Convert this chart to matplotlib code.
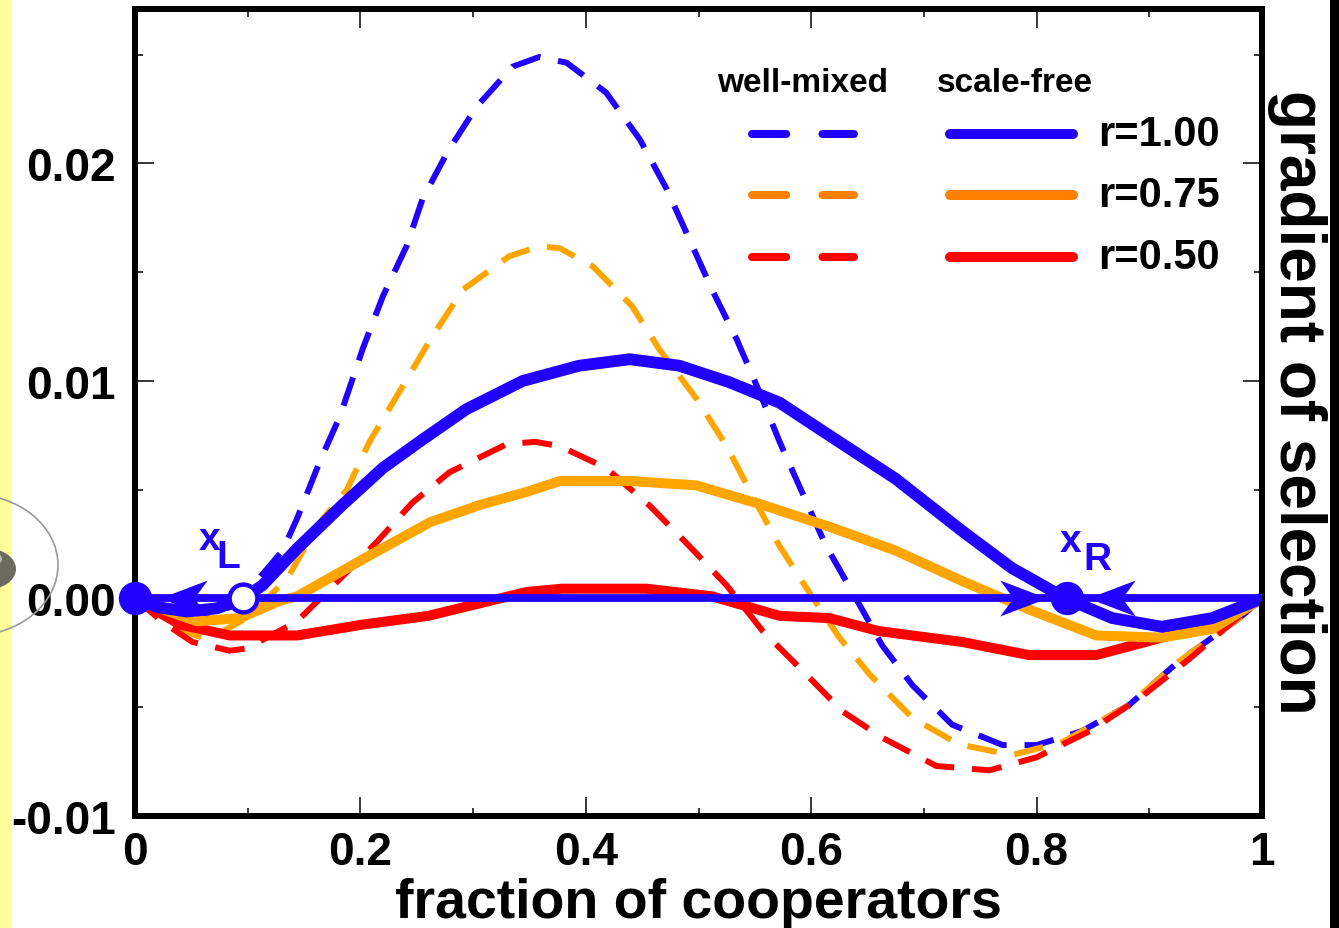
import numpy as np
import matplotlib.pyplot as plt
from matplotlib.path import Path
from matplotlib.patches import Ellipse, Circle, Rectangle

plt.rcParams['font.family'] = ['Liberation Sans', 'DejaVu Sans']
plt.rcParams['font.weight'] = 'bold'
plt.rcParams['axes.labelweight'] = 'bold'

# well-mixed (dashed) curves
wm_x_100 = [0, 0.03, 0.06, 0.09, 0.131, 0.144, 0.164, 0.182, 0.202, 0.22, 0.241, 0.255, 0.277,
            0.303, 0.335, 0.359, 0.383, 0.418, 0.448, 0.472, 0.492, 0.512, 0.534, 0.554, 0.572,
            0.613, 0.6365, 0.663, 0.69, 0.725, 0.77, 0.80, 0.84, 0.882, 0.926, 0.98, 1.0]
wm_y_100 = [0, -0.0006, -0.0008, -0.0003, 0.0022, 0.0037, 0.0063, 0.0084, 0.01147, 0.0139, 0.0162,
            0.01835, 0.0205, 0.0226, 0.02445, 0.0249, 0.02463, 0.02326, 0.0211, 0.0188, 0.0165,
            0.0142, 0.0119, 0.0095, 0.0072, 0.00243, 0.0003, -0.00216, -0.004, -0.0058, -0.00674,
            -0.00674, -0.0061, -0.0049, -0.0029, -0.0009, 0.0]

wm_x_075 = [0, 0.03, 0.064, 0.099, 0.135, 0.161, 0.188, 0.208, 0.238, 0.262, 0.291, 0.332, 0.359,
            0.377, 0.406, 0.441, 0.465, 0.498, 0.525, 0.548, 0.572, 0.598, 0.625, 0.652, 0.69,
            0.731, 0.778, 0.823, 0.882, 0.926, 0.98, 1.0]
wm_y_075 = [0, -0.0012, -0.0019, -0.0009, 0.0009, 0.0033, 0.005, 0.0072, 0.0098, 0.0119, 0.0142,
            0.01573, 0.0162, 0.0161, 0.01528, 0.01344, 0.01147, 0.0092, 0.0070, 0.0047, 0.0024,
            0.0003, -0.0018, -0.0035, -0.0055, -0.0067, -0.0072, -0.0066, -0.0049, -0.0029,
            -0.0009, 0.0]

wm_x_050 = [0, 0.025, 0.051, 0.084, 0.099, 0.1436, 0.176, 0.2146, 0.246, 0.279, 0.33, 0.355, 0.377,
            0.418, 0.456, 0.492, 0.525, 0.557, 0.59, 0.628, 0.663, 0.711, 0.758, 0.80, 0.847,
            0.891, 0.935, 0.978, 1.0]
wm_y_050 = [0, -0.0011, -0.002, -0.0024, -0.0023, -0.00106, 0.0006, 0.0026, 0.0044, 0.0058, 0.0071,
            0.0072, 0.0070, 0.006, 0.0043, 0.0024, 0.0006, -0.0015, -0.0032, -0.0052, -0.0064,
            -0.0077, -0.0079, -0.0073, -0.0061, -0.0046, -0.0028, -0.0009, 0.0]

# scale-free (solid) curves
sf_x_100 = [0, 0.02, 0.046, 0.073, 0.096, 0.113, 0.144, 0.184, 0.22, 0.255, 0.294, 0.344, 0.394,
            0.439, 0.483, 0.527, 0.572, 0.616, 0.675, 0.734, 0.778, 0.826, 0.867, 0.911, 0.956, 1.0]
sf_y_100 = [0, -0.0004, -0.0006, -0.00045, 0, 0.0006, 0.0023, 0.0043, 0.006, 0.0073, 0.0087, 0.01,
            0.0107, 0.0110, 0.0107, 0.00995, 0.009, 0.0075, 0.0055, 0.0031, 0.0014, 0.0, -0.0009,
            -0.0013, -0.0009, 0.0]

sf_x_075 = [0, 0.03, 0.055, 0.093, 0.129, 0.144, 0.202, 0.2615, 0.306, 0.3475, 0.377, 0.439, 0.498,
            0.557, 0.616, 0.675, 0.734, 0.793, 0.853, 0.911, 0.956, 1.0]
sf_y_075 = [0, -0.0006, -0.00105, -0.0009, -0.0001, 0.0001, 0.0018, 0.0035, 0.0043, 0.0049, 0.0054,
            0.0054, 0.0052, 0.0043, 0.0033, 0.0022, 0.0008, -0.0005, -0.0017, -0.0018, -0.0014, 0.0]

sf_x_050 = [0, 0.04, 0.084, 0.144, 0.202, 0.26, 0.3475, 0.379, 0.454, 0.512, 0.572, 0.616, 0.66,
            0.734, 0.793, 0.853, 0.911, 0.97, 1.0]
sf_y_050 = [0, -0.0012, -0.0017, -0.0017, -0.0012, -0.0008, 0.0003, 0.00045, 0.00045, 0.0001,
            -0.0008, -0.0009, -0.0015, -0.002, -0.0026, -0.0026, -0.0018, -0.0009, 0.0]

# fixed points of the r=1.00 scale-free dynamics and flow arrows
fixed_x = [0.0, 0.096, 0.827]
fixed_filled = [True, False, True]
arrow_left_x = [0.022, 0.8456]
arrow_right_x = [0.809]

r_labels = ['r=1.00', 'r=0.75', 'r=0.50']
xtick_vals = [0, 0.2, 0.4, 0.6, 0.8, 1]
xtick_labels = ['0', '0.2', '0.4', '0.6', '0.8', '1']
ytick_vals = [-0.01, 0.0, 0.01, 0.02]
ytick_labels = ['-0.01', '0.00', '0.01', '0.02']

BLUE = '#2200ff'
ORANGE = '#ffa500'
ORANGE_KEY = '#ff7f00'
RED = '#ff0000'

W, H = 1339, 929
fig = plt.figure(figsize=(W / 100, H / 100), dpi=100)

# left pale strip, the grey orbit decoration and the dark edge on the right
fig.patches.append(Rectangle((0, 0), 12 / W, 1, transform=fig.transFigure,
                             facecolor='#ffff99', edgecolor='none', zorder=0))
fig.patches.append(Ellipse((-30 / W, 1 - 566 / H), 176 / W, 142 / H, transform=fig.transFigure,
                           facecolor='none', edgecolor='#999999', lw=1.2, zorder=1))
fig.patches.append(Circle((-14 / W, 1 - 570 / H), 30 / W, transform=fig.transFigure,
                          facecolor='#6b6b60', edgecolor='none', zorder=1))
fig.patches.append(Circle((-8 / W, 1 - 560 / H), 10 / W, transform=fig.transFigure,
                          facecolor='#b8b8b0', edgecolor='none', zorder=1))
fig.patches.append(Rectangle((1330 / W, 0), 9 / W, 1, transform=fig.transFigure,
                             facecolor='black', edgecolor='none', zorder=0))

ax = fig.add_axes([135 / W, 1 - 817 / H, (1262 - 135) / W, (817 - 10) / H])
ax.patch.set_alpha(0)

dash_kw = dict(lw=4.3, dashes=(5, 3), dash_capstyle='butt', dash_joinstyle='round')
ax.plot(wm_x_100, wm_y_100, color=BLUE, **dash_kw)
ax.plot(wm_x_075, wm_y_075, color=ORANGE, **dash_kw)
ax.plot(wm_x_050, wm_y_050, color=RED, **dash_kw)

ax.plot(sf_x_050, sf_y_050, color=RED, lw=7.2, solid_joinstyle='round')
ax.plot(sf_x_075, sf_y_075, color=ORANGE, lw=7.2, solid_joinstyle='round')
ax.plot(sf_x_100, sf_y_100, color=BLUE, lw=8.5, solid_joinstyle='round')

# flow along the x axis
ax.axhline(0, color=BLUE, lw=5.6, zorder=4)

stealth_left = Path([(0, 0), (1.0, 0.38), (0.72, 0), (1.0, -0.38), (0, 0)],
                    [Path.MOVETO, Path.LINETO, Path.LINETO, Path.LINETO, Path.CLOSEPOLY])
stealth_right = Path([(0, 0), (-1.0, 0.38), (-0.72, 0), (-1.0, -0.38), (0, 0)],
                     [Path.MOVETO, Path.LINETO, Path.LINETO, Path.LINETO, Path.CLOSEPOLY])
ax.plot(arrow_left_x, [0] * len(arrow_left_x), ls='none', marker=stealth_left, ms=68,
        color=BLUE, mew=0, zorder=5)
ax.plot(arrow_right_x, [0] * len(arrow_right_x), ls='none', marker=stealth_right, ms=68,
        color=BLUE, mew=0, zorder=5)

for fx, filled in zip(fixed_x, fixed_filled):
    ax.plot(fx, 0, 'o', ms=24 if filled else 20, mfc=BLUE if filled else 'white',
            mec=BLUE, mew=0 if filled else 3.2, clip_on=False, zorder=6)

ax.text(0.0665, 0.00275, 'x', color=BLUE, fontsize=28, ha='center', va='center')
ax.text(0.083, 0.00190, 'L', color=BLUE, fontsize=28, ha='center', va='center')
ax.text(0.8297, 0.00265, 'x', color=BLUE, fontsize=28, ha='center', va='center')
ax.text(0.8536, 0.00180, 'R', color=BLUE, fontsize=28, ha='center', va='center')

# key: dashed = well-mixed, solid = scale-free
ax.text(0.5927, 0.9095, 'well-mixed', transform=ax.transAxes, fontsize=24, ha='center', va='center')
ax.text(0.781, 0.9095, 'scale-free', transform=ax.transAxes, fontsize=24, ha='center', va='center')
key_rows = [0.845, 0.7695, 0.6927]
for yrow, col, lab in zip(key_rows, [BLUE, ORANGE_KEY, RED], r_labels):
    ax.plot([0.5475, 0.638], [yrow, yrow], transform=ax.transAxes, color=col, lw=5.8,
            dashes=(4.25, 4.5), dash_capstyle='round')
    ax.plot([0.723, 0.832], [yrow, yrow], transform=ax.transAxes, color=col, lw=7.2,
            solid_capstyle='round')
    ax.text(0.8545, yrow, lab, transform=ax.transAxes, fontsize=30, ha='left', va='center')

ax.set_xlim(0, 1)
ax.set_ylim(-0.01, 0.0271)
ax.set_xticks(xtick_vals, xtick_labels)
ax.set_yticks(ytick_vals, ytick_labels)
ax.set_xticks(np.arange(0.1, 1.0, 0.2), minor=True)
ax.set_yticks(np.arange(-0.005, 0.027, 0.01), minor=True)
ax.tick_params(which='both', direction='in', top=True, right=True, width=1.1, labelsize=33)
ax.tick_params(which='major', length=14)
ax.tick_params(which='minor', length=6)
ax.tick_params(axis='y', pad=14)
ax.tick_params(axis='x', pad=10)
for sp in ax.spines.values():
    sp.set_linewidth(4.3)

ax.set_xlabel('fraction of cooperators', fontsize=40, fontweight='bold', labelpad=2)
ax.yaxis.set_label_position('right')
ax.set_ylabel('gradient of selection', fontsize=46, fontweight='bold', rotation=-90,
              rotation_mode='default', ha='center', va='center')
ax.yaxis.set_label_coords(1.031, 0.514)

fig.savefig('out.png', dpi=100)
